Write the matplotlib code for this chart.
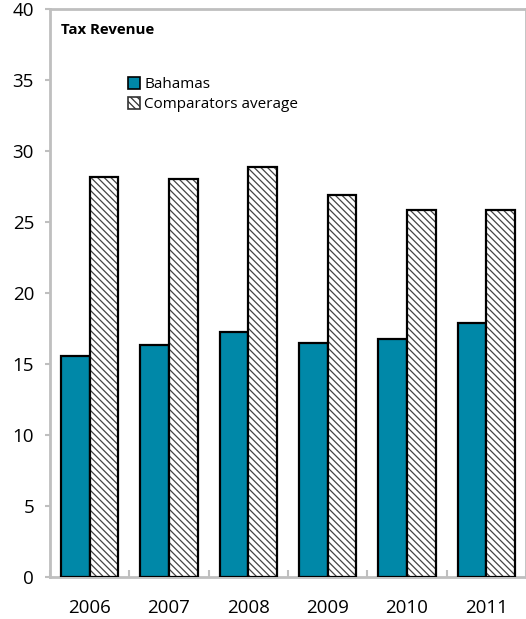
import matplotlib
matplotlib.use("Agg")
import matplotlib.pyplot as plt
import numpy as np
from matplotlib.patches import Patch

plt.rcParams['font.family'] = ['Open Sans', 'DejaVu Sans']
plt.rcParams['hatch.linewidth'] = 0.9

years = ['2006', '2007', '2008', '2009', '2010', '2011']
bahamas = [15.55, 16.35, 17.25, 16.5, 16.75, 17.9]
comparators = [28.2, 28.05, 28.9, 26.9, 25.85, 25.85]
yticks = [0, 5, 10, 15, 20, 25, 30, 35, 40]

teal = '#0088A8'
gray = '#BFBFBF'

fig = plt.figure(figsize=(5.26, 6.19), dpi=100)
ax = fig.add_axes([50/526, (619-577)/619, 476/526, 568/619])

x = np.arange(len(years))
w = 0.36
ax.bar(x - w/2, bahamas, w, color=teal, edgecolor='black', linewidth=1.6, zorder=3, label='Bahamas')
# hatch layer
ax.bar(x + w/2, comparators, w, color='white', edgecolor='#444444', hatch='\\\\\\\\\\', linewidth=0, zorder=3)
ax.bar(x + w/2, comparators, w, fill=False, edgecolor='black', linewidth=1.6, zorder=4)

ax.set_xlim(-0.5, len(years) - 0.5)
ax.set_ylim(0, 40)
ax.set_yticks(yticks)
ax.set_yticklabels([str(t) for t in yticks], fontsize=13.5)
ax.set_xticks(x)
ax.set_xticklabels(years, fontsize=13.5)
ax.tick_params(axis='x', length=0, pad=16)
ax.tick_params(axis='y', direction='out', length=3.5, color=gray, width=1.5, pad=8)
ax.set_xticks(np.arange(len(years) + 1) - 0.5, minor=True)
ax.tick_params(axis='x', which='minor', direction='in', length=5, color=gray, width=1.5)

for s in ['left', 'top', 'bottom', 'right']:
    ax.spines[s].set_color(gray)
    ax.spines[s].set_linewidth(2)

ax.text(0.023, 0.975, 'Tax Revenue', transform=ax.transAxes, fontsize=10.8,
        fontweight='bold', va='top', ha='left')

handles = [Patch(facecolor=teal, edgecolor='black', linewidth=1.2),
           Patch(facecolor='white', edgecolor='#333333', hatch='\\\\\\\\\\', linewidth=1.2)]
leg = ax.legend(handles, ['Bahamas', 'Comparators average'], loc='upper left',
                bbox_to_anchor=(0.163, 0.88), frameon=False, fontsize=11,
                handlelength=0.8, handleheight=0.8, handletextpad=0.3,
                labelspacing=0.3, borderpad=0, borderaxespad=0)

fig.savefig('out.png', dpi=100)
